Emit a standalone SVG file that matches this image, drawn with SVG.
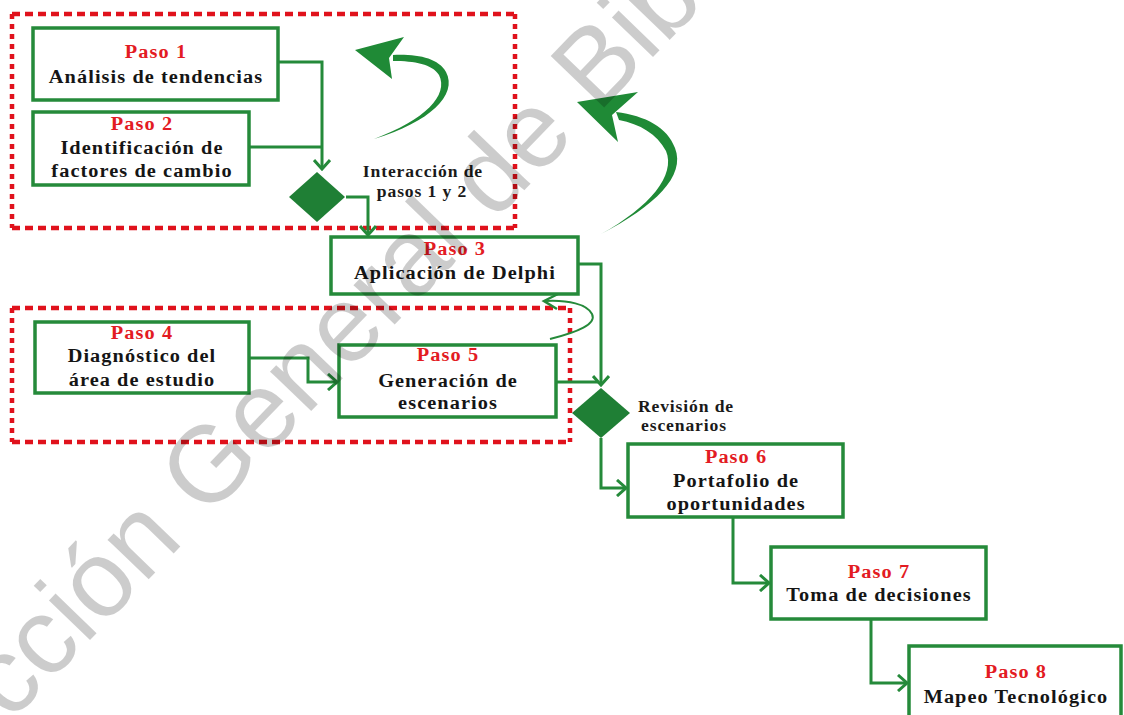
<svg xmlns="http://www.w3.org/2000/svg" width="1124" height="715" viewBox="0 0 1124 715">
  <style>
    .box{fill:#ffffff;stroke:#258a3a;stroke-width:3.5}
    .t{font-family:"Liberation Serif","Times New Roman",serif;font-weight:bold;font-size:19px;letter-spacing:1px;text-anchor:middle}
    .lbl{font-family:"Liberation Serif","Times New Roman",serif;font-weight:bold;font-size:16px;letter-spacing:0.8px;text-anchor:middle;fill:#1a1a1a}
    .red{fill:#e31b23}
    .blk{fill:#151515}
    .conn{fill:none;stroke:#258a3a;stroke-width:3}
    .dh{stroke:#e0121c;stroke-width:4.5;stroke-dasharray:8 5;fill:none}
    .dv{stroke:#e0121c;stroke-width:4.5;stroke-dasharray:5 5;fill:none}
    .dec{fill:#1f7f35}
    .curl{fill:#1f8a36}
    .wm{font-family:"Liberation Sans",Arial,sans-serif;font-size:108px;fill:#000000;fill-opacity:0.2}
  </style>
  <defs>
    <marker id="chev" viewBox="0 0 12 18" refX="10" refY="9" markerWidth="12" markerHeight="18" markerUnits="userSpaceOnUse" orient="auto">
      <path d="M1,1 L10,9 L1,17" fill="none" stroke="#258a3a" stroke-width="3"/>
    </marker>
  </defs>
  <rect width="1124" height="715" fill="#ffffff"/>

  <!-- dashed group frames -->
  <g id="group-1-2">
    <line class="dh" x1="12" y1="14" x2="515" y2="14"/>
    <line class="dh" x1="12" y1="228" x2="515" y2="228"/>
    <line class="dv" x1="12" y1="14" x2="12" y2="228"/>
    <line class="dv" x1="515" y1="14" x2="515" y2="228"/>
  </g>
  <g id="group-4-5">
    <line class="dh" x1="12" y1="308" x2="570" y2="308"/>
    <line class="dh" x1="12" y1="442" x2="570" y2="442"/>
    <line class="dv" x1="12" y1="308" x2="12" y2="442"/>
    <line class="dv" x1="570" y1="308" x2="570" y2="442"/>
  </g>

  <!-- connectors -->
  <g id="connectors">
    <path class="conn" d="M278,62 H322 V169" marker-end="url(#chev)"/>
    <path class="conn" d="M249,147 H322"/>
    <path class="conn" d="M346,197 H368 V235" marker-end="url(#chev)"/>
    <path class="conn" d="M578,264 H601 V385" marker-end="url(#chev)"/>
    <path class="conn" d="M556,382 H598"/>
    <path class="conn" d="M601,438 V488 H626" marker-end="url(#chev)"/>
    <path class="conn" d="M249,358 H308 V382 H337" marker-end="url(#chev)"/>
    <path class="conn" d="M733,517 V583 H769" marker-end="url(#chev)"/>
    <path class="conn" d="M871,619 V683 H907" marker-end="url(#chev)"/>
    <!-- feedback loops -->
    <path class="curl" d="M374,139 C430,122 458,95 446,72 C438,58 418,54 393,55 L393,61 C415,61 432,64 439,75 C449,95 425,120 374,139 Z"/>
    <path class="curl" d="M355,50 L404,37 L389,58 L392,79 Z"/>
    <path class="curl" d="M601,234 C655,206 686,176 675,148 C667,127 646,116 616,112 L619,120 C640,124 657,134 666,151 C676,175 650,207 601,234 Z"/>
    <path class="curl" d="M577,102 L638,92 L612,115 L618,142 Z"/>
    <path class="conn" style="stroke-width:2" d="M550,339 C578,332 597,324 592,314 C587,304 568,300 546,301"/>
    <path class="conn" style="stroke-width:2.5" d="M558,294 L544,301 L557,309"/>
  </g>

  <g id="paso1">
    <rect class="box" x="33" y="28" width="245" height="72"/>
    <text class="t red" x="145.8" y="58" transform="scale(1.07,1)">Paso 1</text>
    <text class="t blk" x="145.8" y="83" transform="scale(1.07,1)">Análisis de tendencias</text>
  </g>
  <g id="paso2">
    <rect class="box" x="33" y="112" width="216" height="73"/>
    <text class="t red" x="132.7" y="130" transform="scale(1.07,1)">Paso 2</text>
    <text class="t blk" x="132.7" y="154" transform="scale(1.07,1)">Identificación de</text>
    <text class="t blk" x="132.7" y="177" transform="scale(1.07,1)">factores de cambio</text>
  </g>
  <g id="interaccion">
    <polygon class="dec" points="317,172 345,197 317,222 289,197"/>
    <text class="lbl" x="384.5" y="177" transform="scale(1.1,1)">Interacción de</text>
    <text class="lbl" x="383.6" y="197" transform="scale(1.1,1)">pasos 1 y 2</text>
  </g>
  <g id="paso3">
    <rect class="box" x="331" y="237" width="247" height="57"/>
    <text class="t red" x="425.2" y="255" transform="scale(1.07,1)">Paso 3</text>
    <text class="t blk" x="425.2" y="279" transform="scale(1.07,1)">Aplicación de Delphi</text>
  </g>
  <g id="paso4">
    <rect class="box" x="35" y="322" width="214" height="71"/>
    <text class="t red" x="132.7" y="339" transform="scale(1.07,1)">Paso 4</text>
    <text class="t blk" x="132.7" y="362" transform="scale(1.07,1)">Diagnóstico del</text>
    <text class="t blk" x="132.7" y="386" transform="scale(1.07,1)">área de estudio</text>
  </g>
  <g id="paso5">
    <rect class="box" x="339" y="345" width="217" height="72"/>
    <text class="t red" x="418.7" y="361" transform="scale(1.07,1)">Paso 5</text>
    <text class="t blk" x="418.7" y="387" transform="scale(1.07,1)">Generación de</text>
    <text class="t blk" x="418.7" y="409" transform="scale(1.07,1)">escenarios</text>
  </g>
  <g id="revision">
    <polygon class="dec" points="601,388 630,413 601,438 572,413"/>
    <text class="lbl" x="623.6" y="412" transform="scale(1.1,1)">Revisión de</text>
    <text class="lbl" x="621.8" y="431" transform="scale(1.1,1)">escenarios</text>
  </g>
  <g id="paso6">
    <rect class="box" x="628" y="444" width="215" height="73"/>
    <text class="t red" x="687.9" y="463" transform="scale(1.07,1)">Paso 6</text>
    <text class="t blk" x="687.9" y="487" transform="scale(1.07,1)">Portafolio de</text>
    <text class="t blk" x="687.9" y="510" transform="scale(1.07,1)">oportunidades</text>
  </g>
  <g id="paso7">
    <rect class="box" x="771" y="547" width="215" height="72"/>
    <text class="t red" x="821.5" y="578" transform="scale(1.07,1)">Paso 7</text>
    <text class="t blk" x="821.5" y="601" transform="scale(1.07,1)">Toma de decisiones</text>
  </g>
  <g id="paso8">
    <rect class="box" x="909" y="646" width="212" height="80"/>
    <text class="t red" x="949.5" y="678" transform="scale(1.07,1)">Paso 8</text>
    <text class="t blk" x="949.5" y="703" transform="scale(1.07,1)">Mapeo Tecnológico</text>
  </g>

  <!-- watermark -->
  <text class="wm" x="10" y="723" transform="rotate(-46 10 723)">cción General de Bibl</text>
</svg>
